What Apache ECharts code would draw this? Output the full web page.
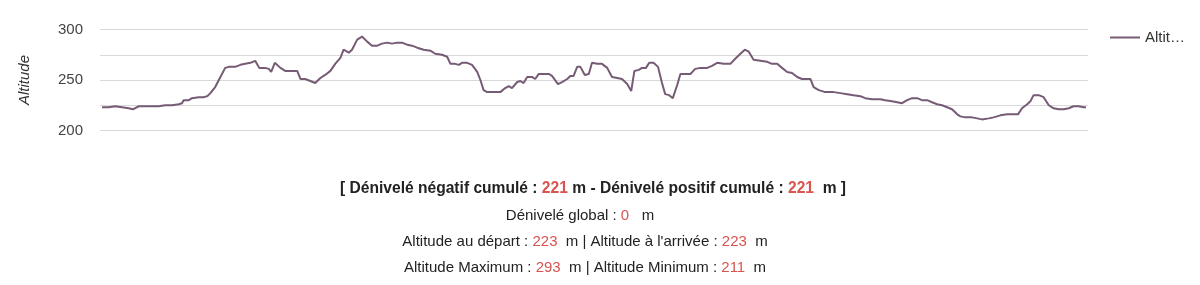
<!DOCTYPE html>
<html>
<head>
<meta charset="utf-8">
<script src="https://cdn.jsdelivr.net/npm/echarts@6/dist/echarts.min.js"></script>
<style>
html,body{margin:0;padding:0;background:#fff;}
#chart{width:1200px;height:285px;}
</style>
</head>
<body>
<div id="chart"></div>
<script>
// Distance along the track (km, read from horizontal position) and altitude (m)
const distanceKm = [0.00,0.17,0.33,0.50,0.67,0.77,0.92,1.08,1.25,1.42,1.58,1.75,1.92,2.00,2.04,2.17,2.25,2.42,2.54,2.63,2.71,2.83,2.96,3.08,3.17,3.33,3.46,3.58,3.71,3.83,3.93,4.08,4.17,4.23,4.32,4.46,4.58,4.75,4.88,4.96,5.08,5.21,5.33,5.38,5.46,5.58,5.71,5.83,5.96,6.04,6.17,6.25,6.38,6.50,6.63,6.75,6.88,7.00,7.13,7.25,7.38,7.50,7.63,7.75,7.88,8.04,8.21,8.33,8.50,8.63,8.71,8.83,8.92,9.00,9.13,9.25,9.38,9.46,9.54,9.63,9.96,10.08,10.17,10.25,10.38,10.46,10.54,10.63,10.75,10.83,10.92,11.04,11.17,11.25,11.40,11.50,11.63,11.71,11.79,11.88,11.96,12.07,12.17,12.25,12.38,12.50,12.63,12.75,12.88,13.00,13.13,13.23,13.31,13.42,13.50,13.60,13.68,13.79,13.90,14.00,14.08,14.18,14.27,14.38,14.46,14.71,14.83,14.96,15.13,15.25,15.38,15.54,15.71,15.83,15.96,16.07,16.17,16.29,16.46,16.63,16.75,16.88,17.00,17.13,17.25,17.38,17.50,17.71,17.79,17.92,18.08,18.29,18.46,18.63,18.79,18.96,19.08,19.25,19.46,19.58,19.75,19.88,20.00,20.13,20.25,20.38,20.50,20.63,20.75,20.88,21.00,21.13,21.25,21.38,21.46,21.58,21.75,21.88,22.00,22.17,22.29,22.46,22.63,22.79,22.90,23.00,23.13,23.21,23.29,23.42,23.54,23.67,23.79,23.92,24.04,24.17,24.29,24.42,24.54,24.60];
const altitude = [223,223,224,223,222,221,224,224,224,224,225,225,226,227,230,230,232,233,233,234,237,243,253,262,263,263,265,266,267,269,262,262,261,258,267,262,259,259,259,251,251,249,247,247,252,255,259,266,272,280,277,280,290,293,288,284,284,286,287,286,287,287,285,284,282,280,279,276,275,273,266,266,265,267,267,265,258,250,240,238,238,242,244,242,248,249,247,253,253,251,256,256,256,254,246,248,251,254,254,263,263,255,256,267,266,266,262,253,252,251,246,239,259,260,262,262,267,267,263,247,236,235,232,245,256,256,261,262,262,264,267,266,266,271,276,280,278,270,269,268,266,266,262,258,257,253,251,251,243,240,238,238,237,236,235,234,232,231,231,230,229,228,227,230,232,232,230,230,228,226,225,223,221,216,214,213,213,212,211,212,213,215,216,216,216,222,226,229,235,235,233,225,222,221,221,222,224,224,223,223];
const seriesName = 'Altitude';
const yTicks = [200, 250, 300];

const summary = {
  negatif: 221, positif: 221, global: 0,
  depart: 223, arrivee: 223, max: 293, min: 211
};

const FONT = 'Arial, "Liberation Sans", sans-serif';
const RED = '#d9534f';
const INK = '#222222';
const chart = echarts.init(document.getElementById('chart'), null, {renderer: 'canvas'});

const rich = {
  t: {fontFamily: FONT, fontSize: 15, fill: INK, color: INK},
  b: {fontFamily: FONT, fontSize: 15.6, fontWeight: 'bold', fill: INK, color: INK},
  r: {fontFamily: FONT, fontSize: 15, fill: RED, color: RED},
  rb: {fontFamily: FONT, fontSize: 15.6, fontWeight: 'bold', fill: RED, color: RED}
};
function txt(cx, cy, s) {
  return {type: 'text', x: cx, y: cy,
    style: {text: s, rich: rich, fontFamily: FONT, fontSize: 15, fill: INK, align: 'center', verticalAlign: 'middle'}};
}

chart.setOption({
  animation: false,
  grid: {left: 100, right: 112, top: 29.5, bottom: 154.5},
  legend: {
    left: 1105, top: 25, orient: 'vertical',
    itemWidth: 30, itemHeight: 2,
    textStyle: {fontFamily: FONT, fontSize: 15, color: '#333', width: 45, overflow: 'truncate', ellipsis: '…'},
    data: [{name: seriesName, icon: 'rect'}]
  },
  xAxis: {
    type: 'value', min: -0.05, max: 24.65,
    axisLine: {show: false}, axisTick: {show: false}, axisLabel: {show: false}, splitLine: {show: false}
  },
  yAxis: {
    type: 'value', min: 200, max: 300, interval: 25,
    name: 'Altitude', nameLocation: 'middle', nameGap: 68, nameRotate: 90,
    nameTextStyle: {fontFamily: FONT, fontSize: 15, fontStyle: 'italic', color: '#333'},
    axisLine: {show: false}, axisTick: {show: false},
    axisLabel: {
      fontFamily: FONT, fontSize: 15, color: '#444', margin: 17,
      formatter: v => yTicks.indexOf(v) >= 0 ? String(v) : ''
    },
    splitLine: {lineStyle: {color: '#d9d9d9', width: 1}}
  },
  series: [{
    name: seriesName, type: 'line', symbol: 'none', showSymbol: false,
    data: distanceKm.map((d, i) => [d, altitude[i]]),
    lineStyle: {color: '#765b75', width: 2},
    itemStyle: {color: '#765b75'}
  }],
  graphic: [
    txt(593, 188.5, '{b|[ Dénivelé négatif cumulé : }{rb|' + summary.negatif + '}{b| m - Dénivelé positif cumulé : }{rb|' + summary.positif + '}{b|  m ]}'),
    txt(580, 215.5, '{t|Dénivelé global : }{r|' + summary.global + '}{t|   m}'),
    txt(585, 241.5, '{t|Altitude au départ : }{r|' + summary.depart + '}{t|  m | Altitude à l\'arrivée : }{r|' + summary.arrivee + '}{t|  m}'),
    txt(585, 267.5, '{t|Altitude Maximum : }{r|' + summary.max + '}{t|  m | Altitude Minimum : }{r|' + summary.min + '}{t|  m}')
  ]
});
</script>
</body>
</html>
